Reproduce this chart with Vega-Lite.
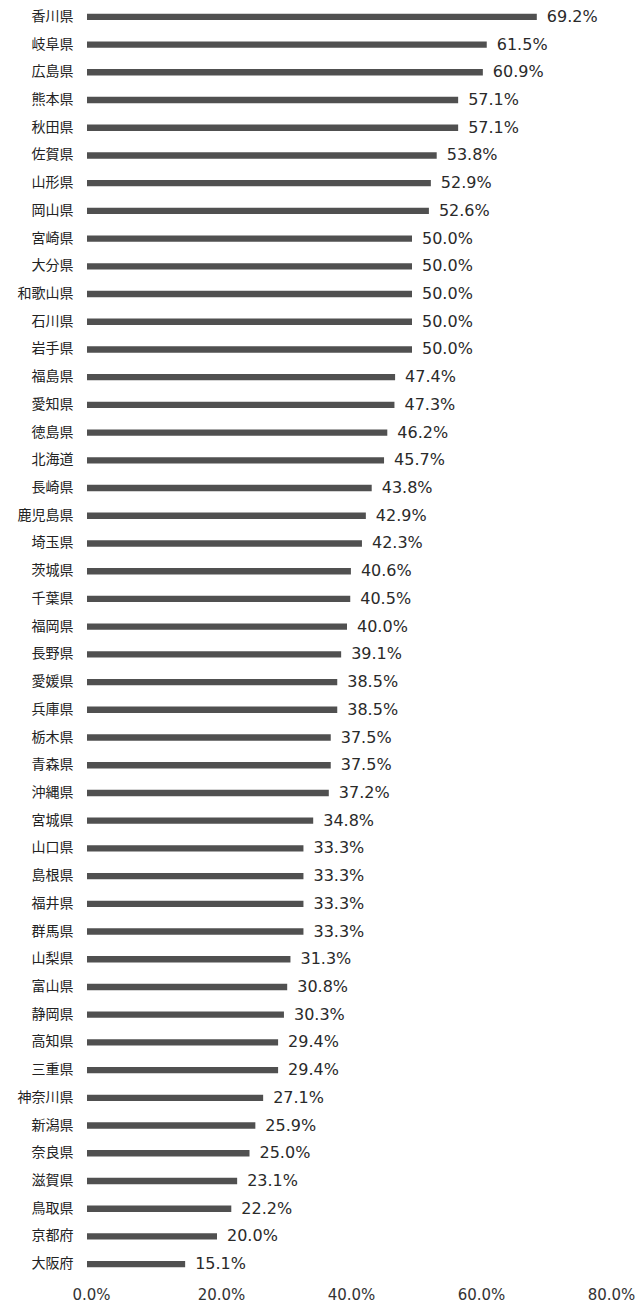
{
  "$schema": "https://vega.github.io/schema/vega-lite/v6.json",
  "width": 520,
  "height": 1275,
  "autosize": "none",
  "padding": {"left": 87, "top": 3, "right": 35, "bottom": 24},
  "background": "white",
  "config": {"view": {"stroke": null}},
  "data": {"values": [
    {"pref": "香川県", "v": 0.692},
    {"pref": "岐阜県", "v": 0.615},
    {"pref": "広島県", "v": 0.609},
    {"pref": "熊本県", "v": 0.571},
    {"pref": "秋田県", "v": 0.571},
    {"pref": "佐賀県", "v": 0.538},
    {"pref": "山形県", "v": 0.529},
    {"pref": "岡山県", "v": 0.526},
    {"pref": "宮崎県", "v": 0.500},
    {"pref": "大分県", "v": 0.500},
    {"pref": "和歌山県", "v": 0.500},
    {"pref": "石川県", "v": 0.500},
    {"pref": "岩手県", "v": 0.500},
    {"pref": "福島県", "v": 0.474},
    {"pref": "愛知県", "v": 0.473},
    {"pref": "徳島県", "v": 0.462},
    {"pref": "北海道", "v": 0.457},
    {"pref": "長崎県", "v": 0.438},
    {"pref": "鹿児島県", "v": 0.429},
    {"pref": "埼玉県", "v": 0.423},
    {"pref": "茨城県", "v": 0.406},
    {"pref": "千葉県", "v": 0.405},
    {"pref": "福岡県", "v": 0.400},
    {"pref": "長野県", "v": 0.391},
    {"pref": "愛媛県", "v": 0.385},
    {"pref": "兵庫県", "v": 0.385},
    {"pref": "栃木県", "v": 0.375},
    {"pref": "青森県", "v": 0.375},
    {"pref": "沖縄県", "v": 0.372},
    {"pref": "宮城県", "v": 0.348},
    {"pref": "山口県", "v": 0.333},
    {"pref": "島根県", "v": 0.333},
    {"pref": "福井県", "v": 0.333},
    {"pref": "群馬県", "v": 0.333},
    {"pref": "山梨県", "v": 0.313},
    {"pref": "富山県", "v": 0.308},
    {"pref": "静岡県", "v": 0.303},
    {"pref": "高知県", "v": 0.294},
    {"pref": "三重県", "v": 0.294},
    {"pref": "神奈川県", "v": 0.271},
    {"pref": "新潟県", "v": 0.259},
    {"pref": "奈良県", "v": 0.250},
    {"pref": "滋賀県", "v": 0.231},
    {"pref": "鳥取県", "v": 0.222},
    {"pref": "京都府", "v": 0.200},
    {"pref": "大阪府", "v": 0.151}
  ]},
  "encoding": {
    "y": {
      "field": "pref", "type": "nominal", "sort": null,
      "scale": {"paddingInner": 0.77, "paddingOuter": 0.385},
      "axis": {"title": null, "domain": false, "ticks": false, "labelPadding": 14,
               "labelFont": "Noto Sans CJK JP", "labelFontSize": 14, "labelColor": "#222"}
    },
    "x": {
      "field": "v", "type": "quantitative",
      "scale": {"domain": [0, 0.8], "nice": false},
      "axis": {"title": null, "domain": false, "ticks": false, "grid": false, "labelFlush": false,
               "labelOffset": 4,
               "values": [0, 0.2, 0.4, 0.6, 0.8], "format": ".1%", "labelPadding": 9,
               "labelFont": "DejaVu Sans", "labelFontSize": 15, "labelColor": "#333"}
    }
  },
  "layer": [
    {"mark": {"type": "bar", "color": "#505050"}},
    {"mark": {"type": "text", "align": "left", "dx": 10, "font": "DejaVu Sans", "fontSize": 16, "color": "#2a2a2a"},
     "encoding": {"text": {"field": "v", "type": "quantitative", "format": ".1%"}}}
  ]
}
